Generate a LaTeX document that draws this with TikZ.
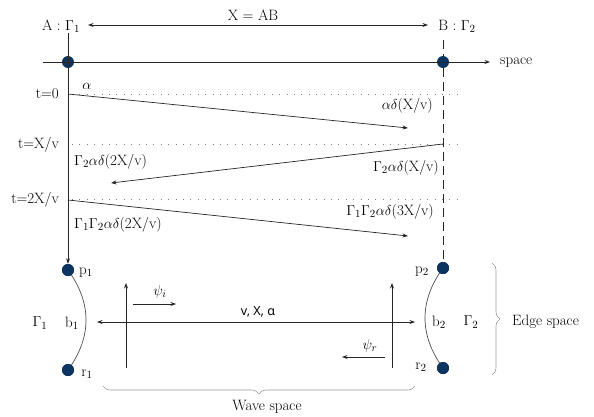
\documentclass[tikz,border=0pt]{standalone}
\usepackage{fontspec}
\newfontfamily\mysans{Noto Sans}
\usetikzlibrary{arrows.meta,decorations.pathreplacing}
\definecolor{dotblue}{RGB}{12,52,96}
\begin{document}
\begin{tikzpicture}[x=1pt,y=-1pt,
  font=\fontsize{15}{17}\selectfont,
  dot/.style={circle, fill=dotblue, minimum size=12pt, inner sep=0pt},
  ln/.style={line width=0.7pt, draw=black!85},
  arr/.style={ln, -{Stealth[length=5.5pt,width=4pt]}},
  darr/.style={ln, {Stealth[length=5.5pt,width=4pt]}-{Stealth[length=5.5pt,width=4pt]}},
  dotln/.style={draw=gray, line width=0.8pt, dash pattern=on 0.8pt off 6.6pt},
  dashln/.style={ln, dash pattern=on 9pt off 5pt},
  arc/.style={draw=black!70, line width=0.7pt},
  brc/.style={draw=gray!80, line width=0.6pt, decorate, decoration={brace, amplitude=8pt}},
  lbl/.style={inner sep=0pt}]
\useasboundingbox (0,0) rectangle (594,416);

% dots
\node[dot] (A) at (68,62) {};
\node[dot] (B) at (443,62) {};
\node[dot] (p1) at (68,270) {};
\node[dot] (r1) at (68,370) {};
\node[dot] (p2) at (443,268) {};
\node[dot] (r2) at (443,368) {};

% top labels
\node[lbl] (Alab) at (61,26) {A : $\Gamma_1$};
\node[lbl] (Blab) at (457,26) {B : $\Gamma_2$};
\node[lbl] (XAB) at (253,15) {X = AB};
\coordinate (xl) at (88,25);
\coordinate (xr) at (428,25);
\draw[darr] (xl) -- (xr);

% space axis
\coordinate (s0) at (43,62);
\coordinate (s1) at (490,62);
\draw[arr] (s0) -- (s1);
\node[lbl, anchor=west] (space) at (500,63) {space};

% time axis and dashed B line
\coordinate (atop) at (68,33);
\draw[arr] (atop) -- (p1);
\coordinate (btop) at (443,40);
\draw[dashln] (btop) -- (p2);

% time labels
\node[lbl, anchor=east] (t0) at (59,94) {t=0};
\node[lbl, anchor=east] (t1) at (59,145) {t=X/v};
\node[lbl, anchor=east] (t2) at (59,200) {t=2X/v};

% dotted lines
\coordinate (d0a) at (72,94);   \coordinate (d0b) at (460,94);
\coordinate (d1a) at (72,144);  \coordinate (d1b) at (460,144);
\coordinate (d2a) at (72,199);  \coordinate (d2b) at (460,199);
\draw[dotln] (d0a) -- (d0b);
\draw[dotln] (d1a) -- (d1b);
\draw[dotln] (d2a) -- (d2b);

% wave paths
\coordinate (w0s) at (68,94);  \coordinate (w0e) at (408,128);
\coordinate (w1s) at (443,144); \coordinate (w1e) at (111,183);
\coordinate (w2s) at (68,200); \coordinate (w2e) at (408,236);
\draw[arr] (w0s) -- (w0e);
\draw[arr] (w1s) -- (w1e);
\draw[arr] (w2s) -- (w2e);

\node[lbl] (alpha) at (87,86) {$\alpha$};
\node[lbl, anchor=east] (l0) at (433,106) {$\alpha\delta$(X/v)};
\node[lbl, anchor=east] (l1) at (439,168) {$\Gamma_2\alpha\delta$(X/v)};
\node[lbl, anchor=west] (l2) at (74,162) {$\Gamma_2\alpha\delta$(2X/v)};
\node[lbl, anchor=east] (l3) at (434,212) {$\Gamma_1\Gamma_2\alpha\delta$(3X/v)};
\node[lbl, anchor=west] (l4) at (74,225) {$\Gamma_1\Gamma_2\alpha\delta$(2X/v)};

% edges
\draw[arc] (p1.center) .. controls (92,303) and (92,337) .. (r1.center);
\draw[arc] (p2.center) .. controls (419,301) and (419,335) .. (r2.center);
\node[dot] at (p1) {};
\node[dot] at (r1) {};
\node[dot] at (p2) {};
\node[dot] at (r2) {};

\node[lbl] (p1l) at (86,273) {p$_1$};
\node[lbl] (r1l) at (87,374) {r$_1$};
\node[lbl] (p2l) at (422,272) {p$_2$};
\node[lbl] (r2l) at (421,367) {r$_2$};
\node[lbl] (b1) at (72,323) {b$_1$};
\node[lbl] (b2) at (439,322) {b$_2$};
\node[lbl] (G1) at (40,323) {$\Gamma_1$};
\node[lbl] (G2) at (471,322) {$\Gamma_2$};

% wave space arrows
\coordinate (hl) at (97,322); \coordinate (hr) at (415,322);
\draw[darr] (hl) -- (hr);
\node[lbl, font=\mysans\fontsize{12.5}{14}\selectfont] (vxa) at (258,312) {v, X, α};
\coordinate (v1b) at (126,368); \coordinate (v1t) at (126,283);
\coordinate (v2b) at (392,368); \coordinate (v2t) at (392,283);
\draw[arr] (v1b) -- (v1t);
\draw[arr] (v2b) -- (v2t);
\coordinate (pia) at (133,304); \coordinate (pib) at (176,304);
\coordinate (pra) at (385,357); \coordinate (prb) at (342,357);
\draw[arr] (pia) -- (pib);
\draw[arr] (pra) -- (prb);
\node[lbl] (psii) at (160,292) {$\psi_i$};
\node[lbl] (psir) at (370,346) {$\psi_r$};

% braces
\coordinate (e0) at (492,263); \coordinate (e1) at (492,375);
\draw[brc] (e0) -- (e1);
\node[lbl, anchor=west] (edge) at (512,322) {Edge space};
\coordinate (ws0) at (415,386); \coordinate (ws1) at (103,386);
\draw[brc] (ws0) -- (ws1);
\node[lbl] (wave) at (267,407) {Wave space};
\end{tikzpicture}
\end{document}
